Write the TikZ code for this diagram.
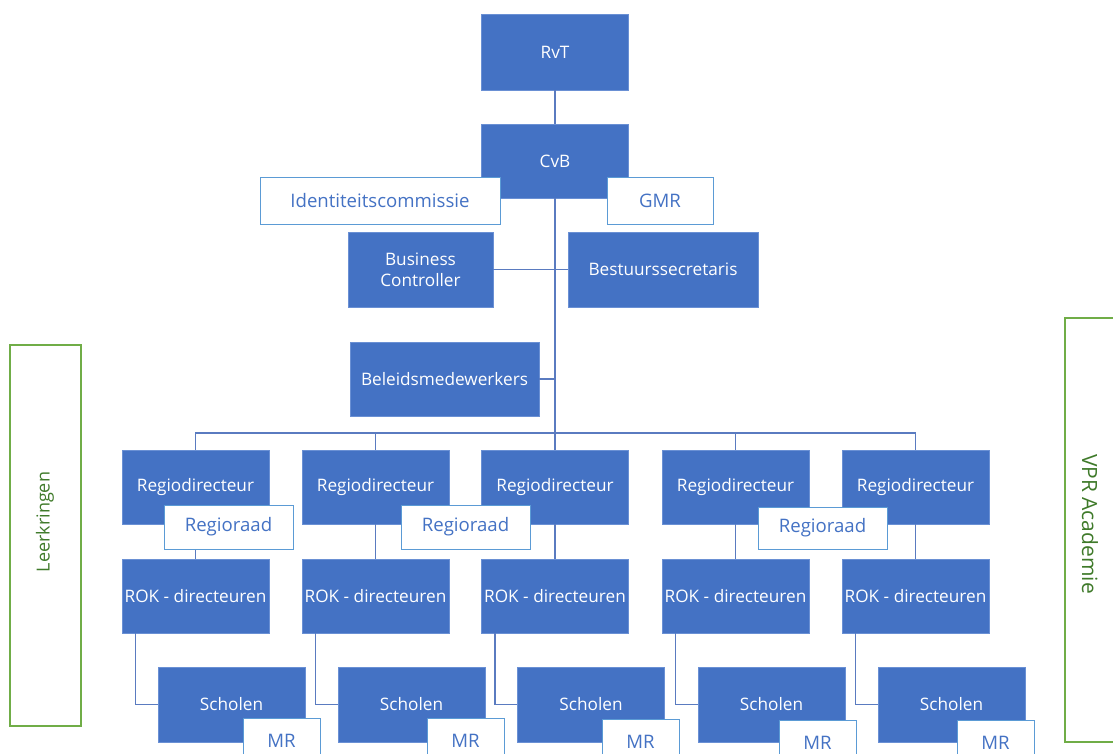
\documentclass[tikz,border=0pt]{standalone}
\usepackage{fontspec}
\setmainfont{Open Sans}
\definecolor{boxblue}{HTML}{4472C4}
\definecolor{edgeblue}{HTML}{6A90D4}
\definecolor{rimblue}{HTML}{5B9BD5}
\definecolor{lineblue}{HTML}{5A7BC0}
\definecolor{bandgreen}{HTML}{70AD47}
\definecolor{textgreen}{HTML}{3F7A2A}
\tikzset{
  unit/.style={draw=edgeblue, line width=0.8pt, fill=boxblue, text=white, inner sep=0pt,
    minimum width=147pt, minimum height=74pt, align=center, font=\fontsize{17.2}{21}\selectfont},
  raad/.style={draw=rimblue, line width=1pt, fill=white, text=boxblue, inner sep=0pt,
    minimum height=46pt, font=\fontsize{18.6}{21}\selectfont},
  link/.style={draw=lineblue, line width=1.5pt},
  band/.style={draw=bandgreen, line width=1.2pt, text=textgreen, inner sep=0pt}
}
\begin{document}
\begin{tikzpicture}[x=1pt,y=-1pt]
\clip (0,0) rectangle (1113,753);
 \node[unit, minimum height=76pt] (rvt) at (555,52) {RvT};
 \node[unit] (cvb) at (555,161) {CvB};
 \node[unit, minimum width=145pt, minimum height=75pt] (bc) at (420.5,269.5) {Business\\Controller};
 \node[unit, minimum width=190pt, minimum height=75pt] (bs) at (663,269.5) {Bestuurssecretaris};
 \node[unit, minimum width=189pt] (bm) at (444.5,379) {Beleidsmedewerkers};
 \node[unit] (r1) at (195.5,487) {Regiodirecteur};
 \node[unit] (r2) at (375.5,487) {Regiodirecteur};
 \node[unit] (r3) at (555,487) {Regiodirecteur};
 \node[unit] (r4) at (735.5,487) {Regiodirecteur};
 \node[unit] (r5) at (915.5,487) {Regiodirecteur};
 \node[unit] (k1) at (195.5,596) {ROK - directeuren};
 \node[unit] (k2) at (375.5,596) {ROK - directeuren};
 \node[unit] (k3) at (555,596) {ROK - directeuren};
 \node[unit] (k4) at (735.5,596) {ROK - directeuren};
 \node[unit] (k5) at (915.5,596) {ROK - directeuren};
 \node[unit, minimum height=75pt] (s1) at (231.5,704.5) {Scholen};
 \node[unit, minimum height=75pt] (s2) at (411.5,704.5) {Scholen};
 \node[unit, minimum height=75pt] (s3) at (591,704.5) {Scholen};
 \node[unit, minimum height=75pt] (s4) at (771.5,704.5) {Scholen};
 \node[unit, minimum height=75pt] (s5) at (951.5,704.5) {Scholen};
 \coordinate (bus) at (555,433);
 \draw[link] (rvt.south) -- (cvb.north);
 \draw[link] (cvb.south) -- (r3.north);
 \draw[link] (bc.east) -- (bs.west);
 \draw[link] (bm.east) -- (bm.east -| cvb.south);
 \draw[link] (r1.north) |- (bus) -| (r5.north);
 \draw[link] (r2.north) -- (r2.north |- bus);
 \draw[link] (r4.north) -- (r4.north |- bus);
 \draw[link] (r1.south) -- (k1.north);
 \draw[link] (r2.south) -- (k2.north);
 \draw[link] (r3.south) -- (k3.north);
 \draw[link] (r4.south) -- (k4.north);
 \draw[link] (r5.south) -- (k5.north);
 \draw[link] ([xshift=14pt]k1.south west) |- (s1.west);
 \draw[link] ([xshift=14pt]k2.south west) |- (s2.west);
 \draw[link] ([xshift=14pt]k3.south west) |- (s3.west);
 \draw[link] ([xshift=14pt]k4.south west) |- (s4.west);
 \draw[link] ([xshift=14pt]k5.south west) |- (s5.west);
 \node[raad, minimum width=240pt, minimum height=47pt] (ic) at (380,200.5) {Identiteitscommissie};
 \node[raad, minimum width=106pt, minimum height=47pt] (gmr) at (660,200.5) {GMR};
 \node[raad, minimum width=129pt, minimum height=44pt] (g1) at (228.5,527) {Regioraad};
 \node[raad, minimum width=129pt, minimum height=44pt] (g2) at (465.5,527) {Regioraad};
 \node[raad, minimum width=129pt, minimum height=42pt] (g3) at (822.5,528) {Regioraad};
 \node[raad, minimum width=77pt] (m1) at (281.5,741) {MR};
 \node[raad, minimum width=77pt] (m2) at (465.5,741) {MR};
 \node[raad, minimum width=77pt] (m3) at (640.5,742) {MR};
 \node[raad, minimum width=77pt] (m4) at (817.5,743) {MR};
 \node[raad, minimum width=77pt] (m5) at (995.5,743) {MR};
 \node[band, minimum width=71pt, minimum height=381pt] (lk) at (45.5,535.5) {};
 \node[text=textgreen, rotate=90, font=\fontsize{18}{21}\selectfont] (lkt) at (45,522) {Leerkringen};
 \node[band, minimum width=52pt, minimum height=424pt] (vpr) at (1091,530) {};
 \node[text=textgreen, rotate=-90, font=\fontsize{21}{24}\selectfont] (vprt) at (1090,524) {VPR Academie};
\end{tikzpicture}
\end{document}
